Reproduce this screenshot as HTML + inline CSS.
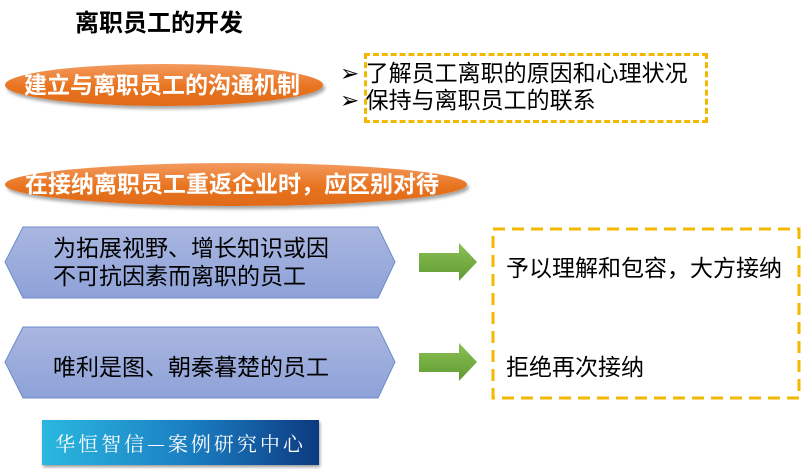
<!DOCTYPE html>
<html><head><meta charset="utf-8"><style>
body{margin:0;width:805px;height:469px;background:#fff;position:relative;overflow:hidden;font-family:"Liberation Sans","Noto Sans CJK SC",sans-serif;}
.a{position:absolute;white-space:nowrap;}
.pill{position:absolute;border-radius:50%;background:linear-gradient(#f39a5e,#e8741f 55%,#e06a18);box-shadow:2px 3px 3px rgba(0,0,0,.35);}
.pt{position:absolute;white-space:nowrap;color:#fff;font-weight:bold;}
</style></head><body>
<div class="a" style="left:75px;top:3px;font-size:24px;font-weight:bold;">离职员工的开发</div>
<div class="pill" style="left:5px;top:64px;width:318px;height:42px;"></div>
<div class="pt" style="left:24px;top:70px;font-size:23px;line-height:30px;">建立与离职员工的沟通机制</div>
<div class="pill" style="left:5px;top:163px;width:462px;height:43px;"></div>
<div class="pt" style="left:25px;top:169px;font-size:23px;line-height:30px;">在接纳离职员工重返企业时，应区别对待</div>
<div class="a" style="left:364px;top:53px;width:338px;height:64px;border:3px dashed #f5b800;"></div>
<div class="a" style="left:340px;top:60px;font-size:23px;line-height:27px;">➢ 了解员工离职的原因和心理状况<br>➢ 保持与离职员工的联系</div>
<svg class="a" style="left:0;top:0" width="805" height="469">
<defs><linearGradient id="h" x1="0" y1="0" x2="0" y2="1"><stop offset="0" stop-color="#a9b6e0"/><stop offset="1" stop-color="#8ea2d8"/></linearGradient>
<linearGradient id="g" x1="0" y1="0" x2="0" y2="1"><stop offset="0" stop-color="#8dc055"/><stop offset="1" stop-color="#5e9b32"/></linearGradient></defs>
<polygon points="5,262 23,227 378,227 395,262 378,298 23,298" fill="url(#h)" stroke="#6d8cc8" stroke-width="1"/>
<polygon points="5,362 23,327 378,327 395,362 378,398 23,398" fill="url(#h)" stroke="#6d8cc8" stroke-width="1"/>
<polygon points="419,253 459,253 459,243 477,262 459,281 459,272 419,272" fill="url(#g)"/>
<polygon points="419,353 459,353 459,343 477,362 459,381 459,372 419,372" fill="url(#g)"/>
<rect x="493" y="229" width="306" height="169" fill="none" stroke="#f5b800" stroke-width="3" stroke-dasharray="12,7"/>
</svg>
<div class="a" style="left:53px;top:234px;font-size:23px;line-height:28px;">为拓展视野、增长知识或因<br>不可抗因素而离职的员工</div>
<div class="a" style="left:53px;top:348px;font-size:23px;">唯利是图、朝秦暮楚的员工</div>
<div class="a" style="left:506px;top:249px;font-size:23px;">予以理解和包容，大方接纳</div>
<div class="a" style="left:506px;top:348px;font-size:23px;">拒绝再次接纳</div>
<div class="a" style="left:42px;top:420px;width:277px;height:45px;background:linear-gradient(90deg,#2ab8e0,#1a7cc0 55%,#0d3a80);box-shadow:1px 2px 3px rgba(0,0,0,.4);color:#fff;font-size:20px;line-height:45px;text-align:center;letter-spacing:3px;font-family:'Noto Serif CJK SC',serif;">华恒智信—案例研究中心</div>
</body></html>
